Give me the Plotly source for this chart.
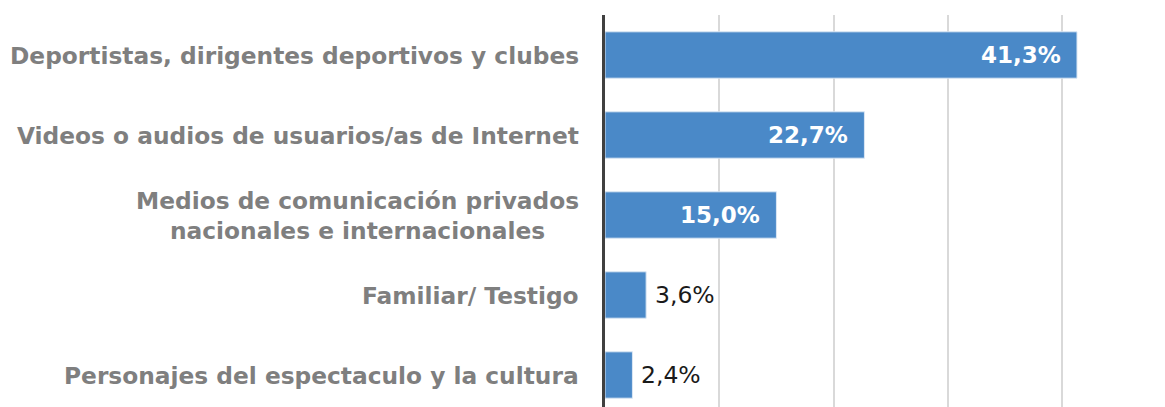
import plotly.graph_objects as go

# Source categories (top to bottom) and share of mentions, in percent
categories = [
    "Deportistas, dirigentes deportivos y clubes",
    "Videos o audios de usuarios/as de Internet",
    "Medios de comunicación privados<br>nacionales e internacionales",
    "Familiar/ Testigo",
    "Personajes del espectaculo y la cultura",
]
values = [41.3, 22.7, 15.0, 3.6, 2.4]

# Bars wide enough get their label inside; the rest get it outside
inside_threshold = 10

BAR_COLOR = "#4a89c8"
LABEL_COLOR = "#7f7f7f"
FONT = "DejaVu Sans"


def fmt(v):
    return f"{v:.1f}".replace(".", ",") + "%"


fig = go.Figure(
    go.Bar(
        x=values,
        y=categories,
        orientation="h",
        marker=dict(color=BAR_COLOR, line=dict(color="#dce8f4", width=1)),
        hoverinfo="skip",
    )
)

annotations = []
# Category labels, centred line by line and right-aligned against the axis
for cat in categories:
    annotations.append(
        dict(
            x=0, xref="paper", y=cat, yref="y",
            text=cat, showarrow=False,
            xanchor="right", yanchor="middle", align="center",
            xshift=-24,
            font=dict(family=FONT, size=23.3, color=LABEL_COLOR, weight="bold"),
        )
    )

# Value labels
for cat, v in zip(categories, values):
    if v >= inside_threshold:
        annotations.append(
            dict(
                x=v, xref="x", y=cat, yref="y",
                text=fmt(v), showarrow=False,
                xanchor="right", yanchor="middle", xshift=-14,
                font=dict(family=FONT, size=23, color="white", weight="bold"),
            )
        )
    else:
        annotations.append(
            dict(
                x=v, xref="x", y=cat, yref="y",
                text=fmt(v), showarrow=False,
                xanchor="left", yanchor="middle", xshift=7,
                font=dict(family=FONT, size=23.5, color="#1a1a1a"),
            )
        )

fig.update_layout(
    width=1165,
    height=407,
    margin=dict(l=605, r=0, t=15, b=0),
    paper_bgcolor="white",
    plot_bgcolor="white",
    bargap=0.42,
    showlegend=False,
    annotations=annotations,
    xaxis=dict(
        range=[0, 49],
        dtick=10,
        showgrid=True,
        gridcolor="#d9d9d9",
        gridwidth=1.5,
        zeroline=False,
        showticklabels=False,
        showline=False,
        fixedrange=True,
    ),
    yaxis=dict(
        range=[4.4, -0.5],
        showticklabels=False,
        showgrid=False,
        showline=True,
        linecolor="#404040",
        linewidth=3,
        zeroline=False,
        fixedrange=True,
    ),
)

fig.write_html("out.html", config={"displayModeBar": False})
